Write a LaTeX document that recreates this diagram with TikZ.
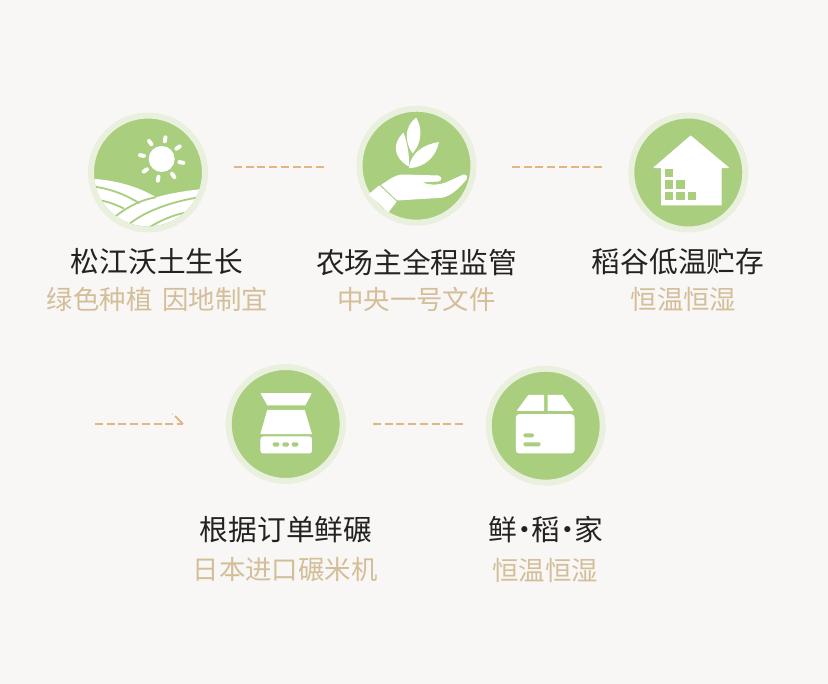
\documentclass[tikz,border=0pt]{standalone}
\usepackage{fontspec}
\setmainfont{Noto Sans CJK SC}
\usetikzlibrary{positioning}
\definecolor{bgcol}{HTML}{F9F7F5}
\definecolor{leafgreen}{HTML}{A9CE7E}
\definecolor{ringgreen}{HTML}{E9F0DE}
\definecolor{dashtan}{HTML}{E2B684}
\definecolor{titleink}{HTML}{222222}
\definecolor{subink}{HTML}{D3BE99}
\newcommand{\middot}{\makebox[14pt][c]{·}}
\begin{document}
\begin{tikzpicture}[
            x = 1pt, y = -1pt,
            line join = round,
            badge/.style = {circle, draw = ringgreen, line width = 6pt, fill = leafgreen,
                inner sep = 0pt, minimum size = 114pt},
            title/.style = {text = titleink, font = \fontsize{28.7}{29}\selectfont, inner sep = 0pt},
            subtitle/.style = {text = subink, font = \fontsize{26.4}{27}\selectfont, inner sep = 0pt},
            dashline/.style = {draw = dashtan, line width = 1.8pt, dash pattern = on 8pt off 3.7pt},
            barb/.style = {draw = dashtan, line width = 1.8pt},
            cutout/.style = {fill = white, draw = white, line width = 1pt},
            gapgreen/.style = {fill = leafgreen},
            ray/.style = {draw = white, line width = 4pt, line cap = round},
            furrow/.style = {draw = leafgreen, line width = 1.8pt}
        ]

        \useasboundingbox (0,0) rectangle (828,684);
        \fill[bgcol] (0,0) rectangle (828,684);

        % Icone
        \node[badge] (field) at (148,172.5) {};
        \node[badge] (hand) at (416.5,165.7) {};
        \node[badge] (house) at (688.3,172.5) {};
        \node[badge] (mill) at (285.7,424) {};
        \node[badge] (box) at (545.7,425.7) {};

        % Testi
        \node[title] (t1) at (157,262) {松江沃土生长};
        \node[subtitle] (s1) at (157.5,299) {绿色种植\hspace{10pt}因地制宜};
        \node[title] (t2) at (416.5,262) {农场主全程监管};
        \node[subtitle] (s2) at (416.5,299) {中央一号文件};
        \node[title] (t3) at (678,262) {稻谷低温贮存};
        \node[subtitle] (s3) at (683.5,299) {恒温恒湿};
        \node[title] (t4) at (286,530) {根据订单鲜碾};
        \node[subtitle] (s4) at (285,570) {日本进口碾米机};
        \node[title] (t5) at (546,530) {鲜\middot 稻\middot 家};
        \node[subtitle] (s5) at (545,570) {恒温恒湿};

        % Tratteggi
        \coordinate (d1a) at (234,167);
        \coordinate (d1b) at (326,167);
        \coordinate (d2a) at (512,167);
        \coordinate (d2b) at (604,167);
        \coordinate (d3a) at (95,424);
        \coordinate (d3b) at (183,424);
        \coordinate (d3c) at (175,416);
        \coordinate (d3d) at (172.5,414);
        \coordinate (d4a) at (373,424);
        \coordinate (d4b) at (465,424);
        \draw[dashline] (d1a) -- (d1b);
        \draw[dashline] (d2a) -- (d2b);
        \draw[dashline] (d3a) -- (d3b);
        \draw[barb] (d3b) -- (d3c);
        \fill[dashtan] (d3d) circle (0.7pt);
        \draw[dashline] (d4a) -- (d4b);

        % Campo e sole
        \begin{scope}[shift={(80,100)}, scale=1/3]
            \begin{scope}
                \clip (204,217) circle (162);
                \fill[white] (30,236) .. controls (110,240) and (180,262) .. (228,292)
                    .. controls (270,280) and (320,272) .. (375,266) -- (375,400) -- (30,400) -- cycle;
                \draw[furrow] (30,258) .. controls (90,265) and (140,285) .. (178,310);
                \draw[furrow] (30,296) .. controls (70,300) and (105,312) .. (132,326);
                \draw[furrow] (105,350) .. controls (150,315) and (190,298) .. (228,292);
                \draw[furrow] (148,372) .. controls (200,330) and (280,305) .. (350,293);
                \draw[furrow] (208,382) .. controls (240,362) and (280,345) .. (315,338);
            \end{scope}
            \fill[white] (245,177) circle (39);
            \foreach \a in {10,55,100,145,190,235,280,325}
                \draw[ray] (245,177) ++(\a:54) -- ++(\a:12);
        \end{scope}

        % Mano e foglie
        \begin{scope}[shift={(340,100)}, scale=1/3]
            \path[cutout] (228,55) .. controls (195,80) and (195,125) .. (218,158)
                .. controls (245,125) and (245,85) .. (228,55) -- cycle;
            \path[cutout] (190,100) .. controls (160,130) and (160,170) .. (205,197)
                .. controls (208,170) and (200,130) .. (190,100) -- cycle;
            \path[cutout] (295,128) .. controls (250,135) and (215,160) .. (208,203)
                .. controls (255,200) and (285,170) .. (295,128) -- cycle;
            \path[cutout] (88,283) -- (118,258) -- (168,305) -- (145,335) -- cycle;
            \path[cutout] (125,255) .. controls (150,240) and (165,225) .. (190,225)
                -- (295,228) .. controls (305,232) and (305,240) .. (295,243)
                -- (240,246) .. controls (265,258) and (295,258) .. (320,248)
                -- (370,225) .. controls (380,224) and (382,232) .. (378,238)
                .. controls (355,265) and (335,285) .. (305,292)
                -- (235,296) -- (172,300) -- cycle;
        \end{scope}

        % Casa
        \begin{scope}[shift={(340,100)}, scale=1/3]
            \path[cutout] (1052,108) -- (1165,203) -- (1143,203) -- (1143,315)
                -- (965,315) -- (965,203) -- (942,203) -- cycle;
            \foreach \xa/\ya in {975/207, 975/241, 1009/241, 975/275, 1009/275, 1044/275}
                \fill[gapgreen] (\xa,\ya) rectangle ++(25,25);
        \end{scope}

        % Macchina
        \begin{scope}[shift={(85,360)}, scale=1/3]
            \path[cutout] (529,101) -- (678,101) -- (660,135) -- (548,135) -- cycle;
            \path[cutout] (548,151) -- (658,151) -- (679,221) -- (528,221) -- cycle;
            \path[cutout, rounded corners=2pt] (528,231) rectangle (679,279);
            \foreach \xa in {573,602,630}
                \fill[gapgreen, rounded corners=1.5pt] (\xa-10,247) rectangle (\xa+10,260);
        \end{scope}

        % Scatola
        \begin{scope}[shift={(360,360)}, scale=1/3]
            \path[cutout] (506,106) -- (551,106) -- (551,151) -- (473,151) -- cycle;
            \path[cutout] (564,106) -- (607,106) -- (639,151) -- (564,151) -- cycle;
            \path[cutout, rounded corners=3pt] (469,164) rectangle (642,279);
            \fill[gapgreen, rounded corners=1.5pt] (490,220) rectangle (522,232);
            \fill[gapgreen, rounded corners=1.5pt] (490,247) rectangle (542,259);
        \end{scope}

\end{tikzpicture}
\end{document}
